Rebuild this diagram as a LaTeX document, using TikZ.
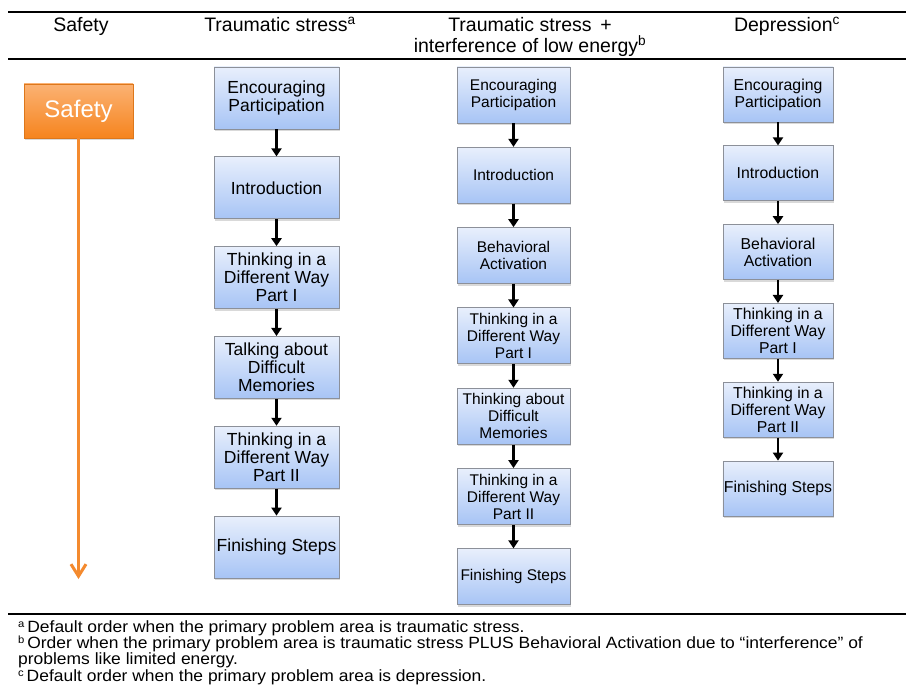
\documentclass[tikz,border=0pt]{standalone}
\usepackage{fontspec}
\setmainfont{Liberation Sans}
\usetikzlibrary{positioning}
\usetikzlibrary{arrows.meta}
\usetikzlibrary{shadows}

\definecolor{boxtop}{HTML}{E8EFFC}
\definecolor{boxbottom}{HTML}{A7C4F5}
\definecolor{boxline}{HTML}{8C9099}
\definecolor{safetop}{HTML}{FBB273}
\definecolor{safebottom}{HTML}{F6841E}
\definecolor{saferule}{HTML}{F48A2E}

\newcommand{\notemark}[1]{\raisebox{5pt}{\fontsize{10.5}{10.5}\selectfont #1}}

\tikzset{
  stepbox/.style={rectangle, draw=boxline, line width=0.8pt, top color=boxtop, bottom color=boxbottom,
    align=center, inner sep=1pt, drop shadow={opacity=0.3, shadow xshift=0.6pt, shadow yshift=-2pt}},
  colA/.style={stepbox, minimum width=125pt, minimum height=62pt, font=\fontsize{17.5}{18}\selectfont},
  colB/.style={stepbox, minimum width=113pt, minimum height=56pt, font=\fontsize{15.5}{17}\selectfont},
  colC/.style={stepbox, minimum width=110pt, minimum height=55pt, font=\fontsize{15.8}{17}\selectfont},
  safetybox/.style={rectangle, draw=safebottom!90!black, line width=0.6pt, top color=safetop, bottom color=safebottom,
    text=white, minimum width=109pt, minimum height=54pt, font=\fontsize{24}{24}\selectfont,
    drop shadow={opacity=0.3, shadow xshift=0.6pt, shadow yshift=-2pt}},
  flow/.style={-{Triangle[width=10pt,length=8pt]}, line width=2.5pt},
  heading/.style={font=\fontsize{19.5}{21}\selectfont, align=center},
  noteline/.style={anchor=base west, inner sep=0pt, font=\fontsize{16.3}{16.3}\selectfont, xscale=1.07, transform shape},
  rulebar/.style={line width=2.5pt}
}

\begin{document}
\begin{tikzpicture}[x=1pt, y=-1pt]

    \useasboundingbox (0,0) rectangle (906,695);

    % Table rules
    \draw[rulebar] (8,12) -- (906,12);
    \draw[line width=2pt] (8,59) -- (906,59);
    \draw[line width=2pt] (8,614) -- (906,614);

    % Headings
    \node[heading, anchor=base] (hsafety) at (81,32) {Safety};
    \node[heading, anchor=base] (htrauma) at (280,32) {Traumatic stress\textsuperscript{a}};
    \node[heading, anchor=north, inner sep=0pt] (henergy) at (530,17.5) {Traumatic stress \,+\\interference of low energy\textsuperscript{b}};
    \node[heading, anchor=base] (hdep) at (787,32) {Depression\textsuperscript{c}};

    % Safety
    \node[safetybox] (safety) at (78.5,111) {Safety};
    \coordinate (safeend) at (78.5,579);
    \draw[saferule, line width=3pt, -{Straight Barb[length=12pt,width=15pt]}] (safety) -- (safeend);

    % Traumatic stress
    \node[colA] (a1) at (276.5,98) {Encouraging\\Participation};
    \node[colA, below=27pt of a1] (a2) {Introduction};
    \node[colA, below=27pt of a2] (a3) {Thinking in a\\Different Way\\Part I};
    \node[colA, below=27pt of a3] (a4) {Talking about\\Difficult\\Memories};
    \node[colA, below=27pt of a4] (a5) {Thinking in a\\Different Way\\Part II};
    \node[colA, below=27pt of a5] (a6) {Finishing Steps};

    % Traumatic stress + low energy
    \node[colB] (b1) at (513.5,95) {Encouraging\\Participation};
    \node[colB, below=23.5pt of b1] (b2) {Introduction};
    \node[colB, below=23.5pt of b2] (b3) {Behavioral\\Activation};
    \node[colB, below=23.5pt of b3] (b4) {Thinking in a\\Different Way\\Part I};
    \node[colB, below=23.5pt of b4] (b5) {Thinking about\\Difficult\\Memories};
    \node[colB, below=23.5pt of b5] (b6) {Thinking in a\\Different Way\\Part II};
    \node[colB, below=23.5pt of b6] (b7) {Finishing Steps};

    % Depression
    \node[colC] (c1) at (778,94.5) {Encouraging\\Participation};
    \node[colC, below=23pt of c1] (c2) {Introduction};
    \node[colC, below=23pt of c2] (c3) {Behavioral\\Activation};
    \node[colC, below=23pt of c3] (c4) {Thinking in a\\Different Way\\Part I};
    \node[colC, below=23pt of c4] (c5) {Thinking in a\\Different Way\\Part II};
    \node[colC, below=23pt of c5] (c6) {Finishing Steps};

    % Arrows
    \foreach \i/\j in {1/2,2/3,3/4,4/5,5/6} {
      \draw[flow] (a\i) -- (a\j);
      \draw[flow] (c\i) -- (c\j);
    }
    \foreach \i/\j in {1/2,2/3,3/4,4/5,5/6,6/7}
      \draw[flow] (b\i) -- (b\j);

    % Notes
    \node[noteline] (note1) at (18,632) {\notemark{a}\,Default order when the primary problem area is traumatic stress.};
    \node[noteline] (note2) at (18,648) {\notemark{b}\,Order when the primary problem area is traumatic stress PLUS Behavioral Activation due to “interference” of};
    \node[noteline] (note3) at (18,664) {problems like limited energy.};
    \node[noteline] (note4) at (18,681) {\notemark{c}\,Default order when the primary problem area is depression.};

\end{tikzpicture}
\end{document}
